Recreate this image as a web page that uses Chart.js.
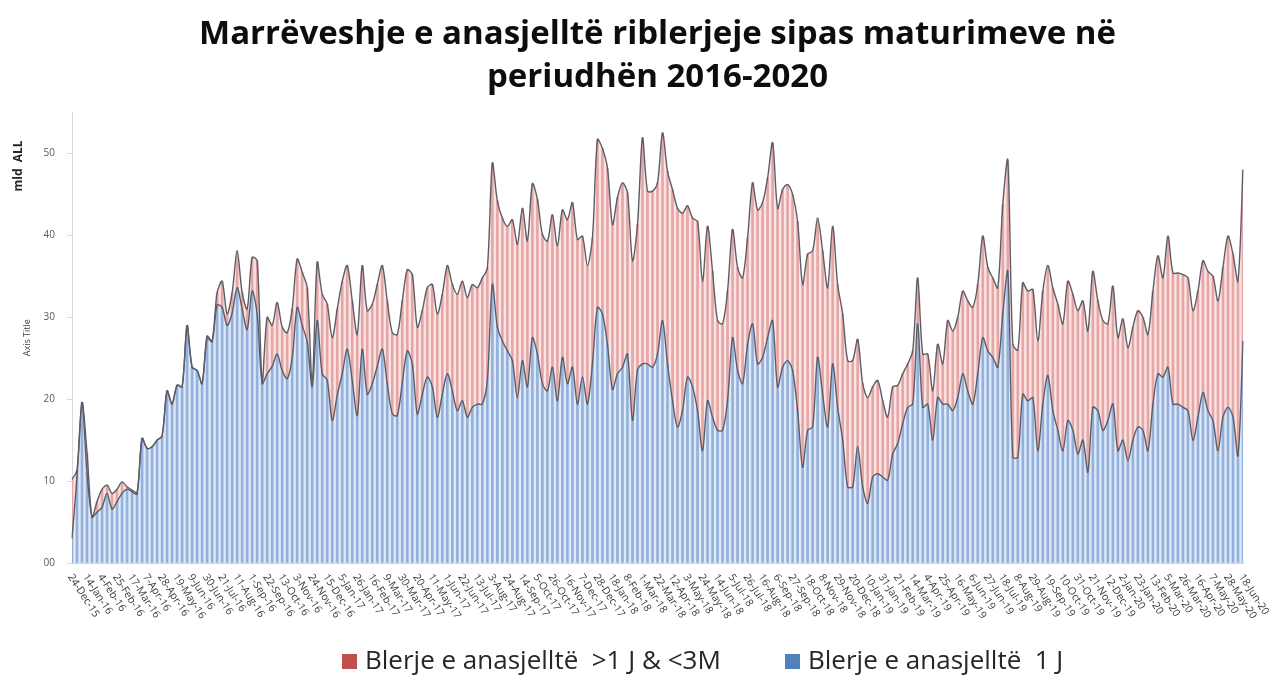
<!DOCTYPE html>
<html>
<head>
<meta charset="utf-8">
<script src="https://cdn.jsdelivr.net/npm/chart.js@4.4.1/dist/chart.umd.min.js"></script>
<style>
  html, body { margin: 0; padding: 0; background: #fff; }
  #wrap { width: 1278px; height: 688px; }
</style>
</head>
<body>
<div id="wrap"><canvas id="chart" width="1278" height="688"></canvas></div>
<script>
// weekly auctions, 24-Dec-15 .. 18-Jun-20
const firstWeek = [2015, 11, 24]
const weekCount = 235
const monthNames = ['Jan', 'Feb', 'Mar', 'Apr', 'May', 'Jun', 'Jul', 'Aug', 'Sep', 'Oct', 'Nov', 'Dec']
const labelEvery = 3

const weeks = []
for (let i = 0; i < weekCount; i++) {
  const d = new Date(firstWeek[0], firstWeek[1], firstWeek[2] + 7 * i)
  weeks.push(d.getDate() + '-' + monthNames[d.getMonth()] + '-' + String(d.getFullYear()).slice(2))
}

const yTicks = [0, 10, 20, 30, 40, 50]

const seriesNames = ['Blerje e anasjelltë  >1 J & <3M', 'Blerje e anasjelltë  1 J']

// mld ALL, 1 week
const oneWeek = [
  3.0, 10.5, 19.6, 11.0, 5.6, 6.2, 6.8, 8.5, 6.6, 7.5,
  8.5, 9.0, 8.7, 8.4, 15.2, 14.0, 14.2, 15.0, 15.5, 21.0,
  19.4, 21.7, 21.5, 28.8, 23.9, 23.5, 21.9, 27.5, 27.0, 31.5,
  31.2, 29.0, 30.5, 33.6, 31.0, 28.5, 33.2, 30.4, 21.9, 23.1,
  24.0, 25.5, 23.5, 22.5, 25.0, 31.2, 29.0, 27.0, 21.5, 29.6,
  23.1, 22.3, 17.4, 20.5, 23.1, 26.1, 22.3, 18.0, 26.1, 20.6,
  21.9, 24.0, 26.1, 21.9, 18.2, 18.0, 22.0, 25.9, 24.3, 18.2,
  20.6, 22.7, 21.5, 17.8, 20.6, 23.1, 21.0, 18.6, 19.8, 17.8,
  19.0, 19.4, 19.4, 22.3, 34.0, 28.8, 27.1, 25.9, 24.7, 20.2,
  24.7, 21.5, 27.5, 25.5, 21.9, 21.0, 23.9, 19.8, 25.1, 21.9,
  23.9, 19.4, 22.7, 19.4, 24.3, 31.2, 30.4, 26.7, 21.2, 23.1,
  23.9, 25.5, 17.4, 23.5, 24.3, 24.3, 23.9, 25.5, 29.6, 24.3,
  19.8, 16.6, 18.6, 22.7, 21.5, 18.6, 13.7, 19.8, 17.8, 16.2,
  16.2, 19.8, 27.5, 23.5, 21.9, 26.7, 29.2, 24.3, 25.1, 27.5,
  29.6, 21.5, 23.9, 24.7, 23.5, 18.6, 11.7, 16.2, 16.6, 25.1,
  20.6, 16.6, 24.3, 19.0, 15.0, 9.3, 9.3, 14.2, 9.3, 7.3,
  10.5, 10.9, 10.5, 10.1, 13.3, 14.6, 17.0, 19.0, 19.4, 29.2,
  19.0, 19.4, 15.0, 20.2, 19.4, 19.4, 18.6, 20.2, 23.1, 21.0,
  19.4, 23.1, 27.5, 25.9, 25.1, 23.9, 30.4, 35.6, 12.9, 12.9,
  20.6, 19.8, 20.2, 13.7, 19.4, 22.9, 18.6, 16.2, 13.7, 17.4,
  16.2, 13.3, 15.0, 11.1, 19.0, 18.6, 16.2, 17.4, 19.4, 13.7,
  15.0, 12.5, 15.0, 16.6, 16.2, 13.7, 19.4, 23.1, 22.7, 23.9,
  19.4, 19.4, 19.0, 18.6, 15.0, 17.8, 20.8, 18.6, 17.4, 13.7,
  17.8, 19.0, 17.8, 13.1, 27.1
]

// mld ALL, more than 1 week and less than 3 months
const upTo3M = [
  7.2, 0.8, 0.0, 2.5, 0.0, 1.3, 2.2, 1.0, 1.9, 1.5,
  1.4, 0.3, 0.2, 0.2, 0.0, 0.0, 0.0, 0.0, 0.0, 0.0,
  0.0, 0.0, 0.0, 0.2, 0.0, 0.0, 0.0, 0.2, 0.1, 1.5,
  3.2, 1.4, 2.5, 4.5, 2.0, 2.5, 4.1, 6.5, 0.3, 6.9,
  5.0, 6.3, 5.3, 5.6, 6.0, 5.9, 6.5, 6.6, 0.5, 7.1,
  9.7, 9.3, 10.1, 10.5, 11.3, 10.2, 9.7, 9.9, 10.2, 10.2,
  9.7, 10.0, 10.2, 10.1, 9.9, 9.9, 10.0, 9.9, 10.9, 10.6,
  10.2, 10.9, 12.5, 12.6, 12.2, 13.2, 13.0, 14.2, 14.6, 14.6,
  15.0, 14.2, 15.4, 13.7, 14.8, 15.4, 15.0, 15.2, 17.2, 18.7,
  18.6, 17.8, 18.8, 18.9, 18.2, 18.3, 18.6, 18.9, 18.0, 20.0,
  20.1, 20.1, 17.2, 16.9, 15.4, 20.5, 20.2, 21.5, 20.1, 21.5,
  22.5, 19.7, 19.5, 17.8, 27.6, 21.1, 21.5, 20.9, 22.9, 23.5,
  25.8, 26.7, 24.1, 20.9, 20.6, 23.1, 20.7, 21.3, 17.8, 13.4,
  13.0, 13.4, 13.2, 12.6, 12.9, 13.0, 17.2, 18.8, 18.9, 19.5,
  21.7, 21.8, 21.7, 21.5, 21.5, 23.1, 22.3, 21.5, 21.5, 17.0,
  17.5, 17.0, 16.8, 15.0, 15.4, 15.4, 15.4, 13.1, 12.6, 12.9,
  11.0, 11.4, 9.3, 7.7, 8.2, 7.1, 6.1, 5.3, 6.5, 5.6,
  6.5, 6.1, 6.0, 6.5, 4.9, 10.2, 9.7, 9.8, 10.1, 11.0,
  11.8, 10.9, 12.4, 10.2, 9.7, 9.7, 13.4, 13.6, 13.8, 13.1,
  13.6, 13.4, 13.2, 13.4, 13.8, 13.4, 15.0, 15.4, 15.5, 17.0,
  16.6, 17.5, 17.0, 17.2, 16.6, 13.4, 13.4, 11.8, 14.4, 13.8,
  14.8, 13.8, 13.8, 14.2, 13.8, 14.2, 13.8, 14.4, 12.1, 16.0,
  16.0, 16.0, 16.2, 16.2, 15.8, 15.4, 16.1, 17.0, 17.6, 18.3,
  18.3, 20.9, 19.9, 21.3, 20.9
]

const lineColor = '#5d5d66'
const font = "'Open Sans', sans-serif"

// rotated date labels, axis titles and the legend
const decor = {
  id: 'decor',
  afterDraw(chart) {
    const ctx = chart.ctx
    const x = chart.scales.x
    const area = chart.chartArea

    ctx.save()
    ctx.fillStyle = '#3a3a3a'
    ctx.font = '10.5px ' + font
    ctx.textAlign = 'left'
    ctx.textBaseline = 'middle'
    weeks.forEach((w, i) => {
      if (i % labelEvery !== 0) return
      ctx.save()
      ctx.translate(x.getPixelForValue(i) - 2, area.bottom + 12)
      ctx.rotate(57 * Math.PI / 180)
      ctx.fillText(w, 0, 0)
      ctx.restore()
    })
    ctx.restore()

    ctx.save()
    ctx.translate(19, 166)
    ctx.rotate(-Math.PI / 2)
    ctx.fillStyle = '#262626'
    ctx.font = 'bold 12px ' + font
    ctx.textAlign = 'center'
    ctx.textBaseline = 'middle'
    ctx.fillText('mld  ALL', 0, 0)
    ctx.restore()

    // legend: red item first, then blue
    ctx.save()
    ctx.font = '26px ' + font
    ctx.textBaseline = 'middle'
    ctx.textAlign = 'left'
    const items = [
      { text: seriesNames[0], color: '#c0504d', x: 342 },
      { text: seriesNames[1], color: '#4f81bd', x: 785 }
    ]
    const ly = 661
    items.forEach(it => {
      ctx.fillStyle = it.color
      ctx.fillRect(it.x, ly - 7, 15, 15)
      ctx.fillStyle = '#262626'
      ctx.fillText(it.text, it.x + 23, ly + 1)
    })
    ctx.restore()
  }
}

new Chart(document.getElementById('chart').getContext('2d'), {
  data: {
    labels: weeks,
    datasets: [
      {
        type: 'line',
        label: seriesNames[1],
        data: oneWeek,
        stack: 'area',
        fill: 'origin',
        backgroundColor: 'rgba(222, 233, 247, 1)',
        borderColor: lineColor,
        borderWidth: 1.4,
        pointRadius: 0,
        tension: 0.3,
        order: 0
      },
      {
        type: 'line',
        label: seriesNames[0],
        data: upTo3M,
        stack: 'area',
        fill: '-1',
        backgroundColor: 'rgba(251, 228, 228, 1)',
        borderColor: lineColor,
        borderWidth: 1.4,
        pointRadius: 0,
        tension: 0.3,
        order: 0
      },
      {
        type: 'bar',
        label: 'stripes 1J',
        data: oneWeek,
        stack: 'stripes',
        backgroundColor: 'rgba(128, 163, 212, 0.8)',
        barThickness: 2,
        order: 1
      },
      {
        type: 'bar',
        label: 'stripes 3M',
        data: upTo3M,
        stack: 'stripes',
        backgroundColor: 'rgba(226, 150, 150, 0.8)',
        barThickness: 2,
        order: 1
      }
    ]
  },
  options: {
    responsive: false,
    animation: false,
    layout: { padding: { left: 0, right: 35, top: 0, bottom: 0 } },
    scales: {
      x: {
        type: 'category',
        offset: false,
        stacked: true,
        grid: { display: false },
        ticks: { display: false },
        border: { display: true, color: '#c7d5ea' },
        afterFit: (scale) => { scale.height = 125 }
      },
      y: {
        stacked: true,
        min: 0,
        max: 55,
        ticks: {
          stepSize: 10,
          padding: 12,
          color: '#595959',
          font: { family: font, size: 10 },
          callback: (v) => v === 0 ? '00' : v
        },
        afterBuildTicks: (scale) => {
          scale.ticks = scale.ticks.filter(t => yTicks.includes(t.value))
        },
        grid: { display: true, drawOnChartArea: false, drawTicks: true, tickLength: 5, color: '#d9d9d9' },
        border: { display: true, color: '#d9d9d9' },
        title: {
          display: true,
          text: 'Axis Title',
          color: '#404040',
          font: { family: font, size: 9 },
          padding: { top: 22, bottom: 0 }
        },
        afterFit: (scale) => { scale.width = 72 }
      }
    },
    plugins: {
      filler: { drawTime: 'beforeDatasetsDraw' },
      legend: { display: false },
      tooltip: { enabled: false },
      title: {
        display: true,
        fullSize: false,
        text: ['Marrëveshje e anasjelltë riblerjeje sipas maturimeve në', 'periudhën 2016-2020'],
        color: '#0d0d0d',
        font: { family: font, size: 33, weight: 'bold', lineHeight: 1.31 },
        padding: { top: 13, bottom: 13 }
      }
    }
  },
  plugins: [decor]
})
</script>
</body>
</html>
